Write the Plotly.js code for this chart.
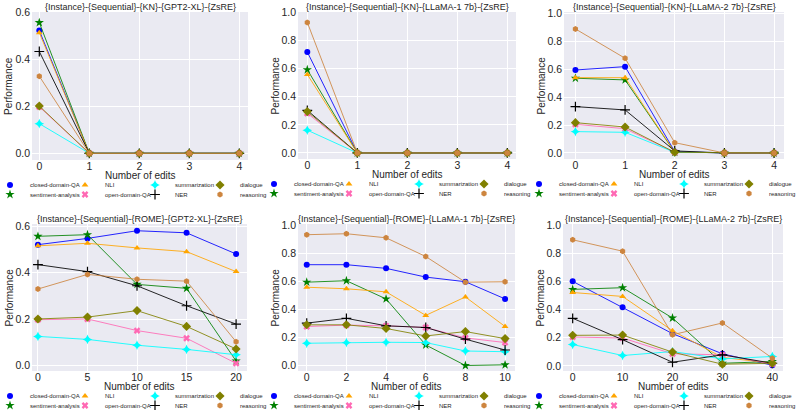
<!DOCTYPE html>
<html><head><meta charset="utf-8">
<script src="https://cdn.plot.ly/plotly-3.0.1.min.js"></script>
<style>html,body{margin:0;padding:0;background:#fff}</style>
</head><body><div id="chart" style="width:800px;height:410px"></div>
<script>
// series order: as plotted
const seriesNames = ['closed-domain-QA','sentiment-analysis','NLI','open-domain-QA','summarization','NER','dialogue','reasoning'];
const seriesColors = ['#0000FF','#008000','#FFA500','#FF69B4','#00FFFF','#000000','#808000','#CD853F'];
const seriesSymbols = ['circle','star','triangle-up','x','star-diamond','cross-thin','diamond','hexagon'];
const seriesSizes = [6,7,6,6,7,7,7,6];

const subplotTitles = [
  '{Instance}-{Sequential}-{KN}-{GPT2-XL}-{ZsRE}',
  '{Instance}-{Sequential}-{KN}-{LLaMA-1 7b}-{ZsRE}',
  '{Instance}-{Sequential}-{KN}-{LLaMA-2 7b}-{ZsRE}',
  '{Instance}-{Sequential}-{ROME}-{GPT2-XL}-{ZsRE}',
  '{Instance}-{Sequential}-{ROME}-{LLaMA-1 7b}-{ZsRE}',
  '{Instance}-{Sequential}-{ROME}-{LLaMA-2 7b}-{ZsRE}'
];
const xTitle = 'Number of edits';
const yTitle = 'Performance';

const editsKN = [0,1,2,3,4];
const editsRomeGpt2 = [0,5,10,15,20];
const editsRomeLlama1 = [0,2,4,6,8,10];
const editsRomeLlama2 = [0,10,20,30,40];

// rows follow seriesNames order
const knGpt2xl = [
  [0.522,0,0,0,0],
  [0.556,0,0,0,0],
  [0.513,0,0,0,0],
  [0.198,0,0,0,0],
  [0.126,0,0,0,0],
  [0.433,0,0,0,0],
  [0.201,0,0,0,0],
  [0.328,0,0,0,0]
];
const knLlama1 = [
  [0.718,0,0,0,0],
  [0.592,0,0,0,0],
  [0.558,0,0,0,0],
  [0.282,0,0,0,0],
  [0.162,0,0,0,0],
  [0.303,0,0,0,0],
  [0.294,0,0,0,0],
  [0.928,0,0,0,0]
];
const knLlama2 = [
  [0.594,0.618,0.010,0,0],
  [0.535,0.523,0.005,0,0],
  [0.539,0.539,0.005,0,0],
  [0.205,0.174,0.005,0,0],
  [0.153,0.148,0.005,0,0],
  [0.332,0.308,0.015,0,0],
  [0.217,0.186,0.005,0,0],
  [0.888,0.678,0.074,0,0]
];
const romeGpt2xl = [
  [0.521,0.548,0.581,0.572,0.481],
  [0.557,0.564,0.350,0.333,0.020],
  [0.516,0.527,0.507,0.491,0.405],
  [0.198,0.201,0.151,0.118,0.010],
  [0.126,0.113,0.088,0.070,0.047],
  [0.435,0.405,0.344,0.258,0.179],
  [0.201,0.209,0.237,0.169,0.072],
  [0.330,0.393,0.372,0.364,0.103]
];
const romeLlama1 = [
  [0.718,0.718,0.692,0.630,0.597,0.475],
  [0.594,0.604,0.475,0.148,0.002,0.007],
  [0.558,0.547,0.525,0.358,0.489,0.279],
  [0.279,0.289,0.284,0.272,0.198,0.165],
  [0.160,0.165,0.167,0.165,0.105,0.100],
  [0.303,0.337,0.284,0.272,0.189,0.112],
  [0.291,0.291,0.265,0.212,0.243,0.193],
  [0.931,0.938,0.909,0.776,0.594,0.597]
];
const romeLlama2 = [
  [0.600,0.417,0.229,0.086,0.005],
  [0.543,0.555,0.340,0.019,0.031],
  [0.521,0.493,0.250,0.060,0.020],
  [0.205,0.198,0.086,0.079,0.014],
  [0.152,0.074,0.102,0.050,0.067],
  [0.338,0.186,0.026,0.079,0.019],
  [0.217,0.219,0.098,0.012,0.019],
  [0.895,0.814,0.221,0.305,0.055]
];

const subplotX = [editsKN, editsKN, editsKN, editsRomeGpt2, editsRomeLlama1, editsRomeLlama2];
const subplotY = [knGpt2xl, knLlama1, knLlama2, romeGpt2xl, romeLlama1, romeLlama2];

// layout geometry (pixels)
const W = 800, H = 410;
const cells = [
  {xd:[32,248], yd:[12,160], xr:[-0.146,4.174], yr:[-0.0285,0.601], dt:1, m1:10},
  {xd:[298,516], yd:[12,159], xr:[-0.186,4.174], yr:[-0.043,1.002], dt:1, m1:274},
  {xd:[564,784], yd:[12,159], xr:[-0.23,4.2],   yr:[-0.043,1.009], dt:1, m1:539},
  {xd:[32,247], yd:[224,371], xr:[-0.6,21.1],  yr:[-0.023,0.61],  dt:5, m1:10},
  {xd:[298,515], yd:[224,371], xr:[-0.44,10.5], yr:[-0.037,1.007], dt:2, m1:274},
  {xd:[563,783], yd:[224,371], xr:[-1.94,42.14],yr:[-0.036,1.007], dt:10,m1:539}
];
const LEG_INDENT = -15;
const colWidths = [45, 40, 35, 28];
const FONT = '"Liberation Sans", Arial, sans-serif';
const TXT = '#262626';

const traces = [];
const layout = {
  width: W, height: H,
  margin: {l:0, r:0, t:0, b:0, autoexpand:false},
  paper_bgcolor: '#ffffff',
  plot_bgcolor: '#EAEAF2',
  font: {family: FONT, color: TXT, size: 10},
  annotations: [],
  showlegend: true
};

cells.forEach((c, k) => {
  const sfx = k === 0 ? '' : String(k+1);
  const xa = 'x' + sfx, ya = 'y' + sfx;
  const legA = 'legend' + (2*k === 0 ? '' : String(2*k+1));
  const legB = 'legend' + String(2*k+2);
  const bottom = c.yd[1];
  seriesNames.forEach((name, i) => {
    traces.push({
      x: subplotX[k], y: subplotY[k][i], xaxis: xa, yaxis: ya,
      mode: 'lines', line: {color: seriesColors[i], width: 1},
      opacity: 0.85, showlegend: false, hoverinfo: 'skip'
    });
    const mk = {symbol: seriesSymbols[i], size: seriesSizes[i], color: seriesColors[i], line: {width: 0}};
    if (seriesSymbols[i] === 'cross-thin') mk.line = {width: 1.2, color: seriesColors[i]};
    traces.push({
      x: subplotX[k], y: subplotY[k][i], xaxis: xa, yaxis: ya,
      mode: 'markers', marker: mk, name: name,
      legend: (i % 2 === 0) ? legA : legB,
      legendwidth: colWidths[Math.floor(i/2)],
      showlegend: true
    });
  });
  const axCommon = {
    showgrid: true, gridcolor: '#ffffff', gridwidth: 1, zeroline: false, showline: false,
    ticks: '', tickfont: {size: 10.5, color: TXT}, fixedrange: true, automargin: false
  };
  layout['xaxis' + sfx] = Object.assign({}, axCommon, {
    domain: [c.xd[0]/W, c.xd[1]/W], range: c.xr, dtick: c.dt, tick0: 0,
    anchor: ya, ticklabelstandoff: -2
  });
  layout['yaxis' + sfx] = Object.assign({}, axCommon, {
    domain: [1 - c.yd[1]/H, 1 - c.yd[0]/H], range: c.yr, dtick: 0.2, tick0: 0,
    tickformat: '.1f', anchor: xa, ticklabelstandoff: 1
  });
  layout.annotations.push({
    text: subplotTitles[k], xref: 'paper', yref: 'paper',
    x: (c.xd[0] + c.xd[1]) / 2 / W, y: 1 - (c.yd[0] - 5) / H,
    xanchor: 'center', yanchor: 'middle', showarrow: false,
    font: {size: 9, color: TXT}
  });
  layout.annotations.push({
    text: xTitle, xref: 'paper', yref: 'paper',
    x: (c.xd[0] + c.xd[1]) / 2 / W, y: 1 - (bottom + 15.5) / H,
    xanchor: 'center', yanchor: 'middle', showarrow: false,
    font: {size: 10, color: TXT}
  });
  layout.annotations.push({
    text: yTitle, xref: 'paper', yref: 'paper', textangle: -90,
    x: (c.xd[0] - 23) / W, y: 1 - (c.yd[0] + c.yd[1]) / 2 / H,
    xanchor: 'center', yanchor: 'middle', showarrow: false,
    font: {size: 10, color: TXT}
  });
  const legCommon = {
    orientation: 'h', xanchor: 'left', yanchor: 'middle',
    bgcolor: 'rgba(0,0,0,0)', borderwidth: 0, itemwidth: 30, indentation: LEG_INDENT,
    font: {size: 6, color: TXT, family: FONT}, itemclick: false, itemdoubleclick: false
  };
  const lx = Math.max(0, c.m1 - 20 - LEG_INDENT);
  layout[legA] = Object.assign({}, legCommon, {x: lx / W, y: 1 - (bottom + 25) / H});
  layout[legB] = Object.assign({}, legCommon, {x: lx / W, y: 1 - (bottom + 34.5) / H});
});

Plotly.newPlot('chart', traces, layout, {displayModeBar: false, staticPlot: true});
</script>
</body></html>
